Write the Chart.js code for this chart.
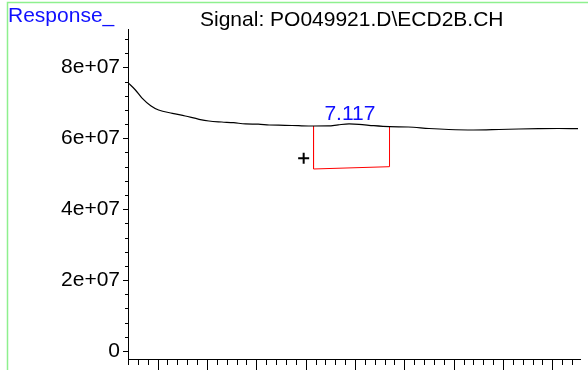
<!DOCTYPE html>
<html>
<head>
<meta charset="utf-8">
<script src="https://cdn.jsdelivr.net/npm/chart.js"></script>
<style>
  html, body { margin: 0; padding: 0; background: #fff; }
</style>
</head>
<body>
<canvas id="chromato" width="588" height="370"></canvas>
<script>
// temps de retention (min) et reponse du detecteur ECD
let temps = [6.920, 6.9275, 6.934, 6.943, 6.951, 6.965, 6.978, 6.992, 7.002, 7.015, 7.027, 7.039, 7.052, 7.063, 7.079, 7.093,
             7.108, 7.123, 7.133, 7.144, 7.154, 7.169, 7.185, 7.204, 7.225, 7.245, 7.270, 7.296, 7.316, 7.336, 7.356, 7.376]
let signal = [7.568e7, 7.363e7, 7.140e7, 6.920e7, 6.800e7, 6.705e7, 6.629e7, 6.536e7, 6.488e7, 6.460e7, 6.440e7, 6.405e7, 6.398e7, 6.375e7, 6.367e7, 6.355e7,
              6.347e7, 6.350e7, 6.380e7, 6.405e7, 6.395e7, 6.355e7, 6.327e7, 6.319e7, 6.276e7, 6.248e7, 6.234e7, 6.248e7, 6.262e7, 6.271e7, 6.276e7, 6.271e7]

// ligne de base de l'integration (rouge)
let baseTemps = [7.108, 7.108, 7.185, 7.185]
let baseValues = [6.347e7, 5.134e7, 5.199e7, 6.327e7]

// marqueur "+"
let plusTemps = [7.098]
let plusValues = [5.44e7]

// pic
let peakRT = 7.117
let peakLabel = "7.117"

let yTickValues = [0, 2e7, 4e7, 6e7, 8e7]
let yTickLabels = ["0", "2e+07", "4e+07", "6e+07", "8e+07"]

let titre = "Signal: PO049921.D\\ECD2B.CH"
let axeY = "Response_"

const police = '"Liberation Sans", Arial, sans-serif'

const toPoints = (xs, ys) => xs.map((x, i) => ({ x: x, y: ys[i] }))

const interp = (t) => {
    for (let i = 1; i < temps.length; i++) {
        if (temps[i] >= t) {
            let f = (t - temps[i - 1]) / (temps[i] - temps[i - 1])
            return signal[i - 1] + f * (signal[i] - signal[i - 1])
        }
    }
    return signal[signal.length - 1]
}

const decor = {
    id: "decor",
    afterDraw(chart) {
        let ctx = chart.ctx
        let xs = chart.scales.x
        let ys = chart.scales.y
        let area = chart.chartArea
        ctx.save()

        // cadre vert
        ctx.strokeStyle = "#8ef08e"
        ctx.lineWidth = 1.5
        ctx.beginPath()
        ctx.moveTo(7.5, 370)
        ctx.lineTo(7.5, 2.5)
        ctx.lineTo(588, 2.5)
        ctx.stroke()

        // graduations x
        ctx.strokeStyle = "#000"
        ctx.lineWidth = 1
        ctx.beginPath()
        for (let k = 692; k <= 737; k++) {
            let px = Math.round(xs.getPixelForValue(k / 100)) + 0.5
            let len = (k % 5 === 0) ? 12 : 6
            ctx.moveTo(px, area.bottom)
            ctx.lineTo(px, area.bottom + len)
        }
        // graduations y
        for (let k = 0; k <= 22; k++) {
            let py = Math.round(ys.getPixelForValue(k * 0.4e7)) + 0.5
            let len = (k % 5 === 0) ? 5 : 3
            ctx.moveTo(area.left, py)
            ctx.lineTo(area.left - len, py)
        }
        ctx.stroke()

        // textes
        ctx.font = "21px " + police
        ctx.textBaseline = "alphabetic"
        ctx.textAlign = "left"
        ctx.fillStyle = "#000"
        ctx.fillText(titre, 200, 26)
        ctx.fillStyle = "#1010ff"
        ctx.fillText(axeY, 8, 22)
        let lx = xs.getPixelForValue(peakRT) + 2
        let ly = ys.getPixelForValue(interp(peakRT)) - 6
        ctx.fillText(peakLabel, lx, ly)
        ctx.restore()
    }
}

const config = {
    type: "line",
    data: {
        datasets: [
            {
                data: toPoints(temps, signal),
                borderColor: "#000",
                borderWidth: 1.2,
                pointRadius: 0,
                cubicInterpolationMode: "monotone",
                fill: false
            },
            {
                data: toPoints(baseTemps, baseValues),
                borderColor: "#ff0000",
                borderWidth: 1,
                pointRadius: 0,
                tension: 0,
                fill: false
            },
            {
                data: toPoints(plusTemps, plusValues),
                showLine: false,
                pointStyle: "cross",
                pointRadius: 5.5,
                borderWidth: 2,
                borderColor: "#000"
            }
        ]
    },
    options: {
        responsive: false,
        animation: false,
        devicePixelRatio: 1,
        layout: { padding: { left: 8, top: 29, right: 8, bottom: 0 } },
        plugins: {
            legend: { display: false },
            tooltip: { enabled: false }
        },
        scales: {
            x: {
                type: "linear",
                min: 6.92,
                max: 7.378,
                ticks: { display: false },
                grid: { display: false, drawTicks: false },
                border: { display: true, color: "#000", width: 1 },
                afterFit: (s) => { s.height = 11; s.paddingLeft = 0; s.paddingRight = 0 }
            },
            y: {
                type: "linear",
                min: -0.2257e7,
                max: 9.083e7,
                afterBuildTicks: (s) => { s.ticks = yTickValues.map(v => ({ value: v })) },
                ticks: {
                    autoSkip: false,
                    padding: 8,
                    color: "#000",
                    font: { family: police, size: 21 },
                    callback: (v) => yTickLabels[yTickValues.indexOf(v)]
                },
                grid: { display: false, drawTicks: false },
                border: { display: true, color: "#000", width: 1 },
                afterFit: (s) => { s.width = 120; s.paddingTop = 0; s.paddingBottom = 0 }
            }
        }
    },
    plugins: [decor]
}

const chromato = new Chart(document.getElementById("chromato").getContext("2d"), config)
</script>
</body>
</html>
